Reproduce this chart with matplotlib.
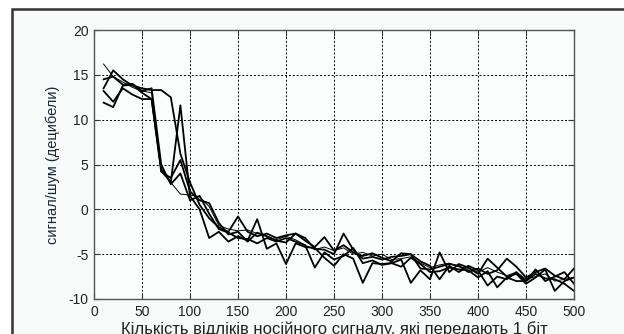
import matplotlib
matplotlib.use("Agg")
import matplotlib.pyplot as plt
from matplotlib.patches import Rectangle
import numpy as np

x_vals = list(range(10, 501, 10))

s1 = [16.2, 14.8, 14.2, 13.6, 13.2, 13.0, 4.2, 3.0, 1.7, 1.6,
      1.4, 0.3, -1.8, -2.2, -2.4, -2.3, -2.7, -3.0, -3.4, -3.0,
      -3.4, -4.0, -4.5, -4.2, -4.6, -4.3, -5.0, -4.8, -5.2, -5.0,
      -5.6, -5.5, -5.3, -6.0, -6.5, -6.2, -6.0, -6.4, -6.6, -7.0,
      -6.5, -7.0, -7.4, -7.0, -7.8, -7.5, -7.2, -8.0, -7.8, -7.6]
s2 = [13.5, 15.5, 14.5, 13.8, 13.5, 13.3, 13.3, 12.5, 6.2, 3.0,
      0.5, -1.0, -2.0, -2.5, -0.8, -2.5, -3.0, -2.7, -3.2, -2.9,
      -2.7, -3.5, -4.2, -3.1, -4.6, -4.0, -4.8, -5.2, -4.9, -5.4,
      -5.8, -4.9, -5.0, -6.6, -6.7, -6.4, -6.1, -6.3, -7.0, -6.6,
      -7.2, -6.8, -5.5, -6.4, -7.6, -7.0, -6.6, -7.4, -7.8, -6.6]
s3 = [11.9, 11.4, 13.8, 13.9, 13.0, 12.3, 4.5, 3.0, 11.6, 1.5,
      0.0, -3.2, -2.5, -3.6, -3.0, -3.5, -1.1, -4.4, -3.8, -6.1,
      -3.8, -4.2, -4.3, -5.4, -6.3, -5.0, -5.5, -8.2, -6.0, -6.1,
      -6.0, -5.6, -8.2, -6.8, -7.8, -4.8, -7.0, -6.1, -6.5, -7.2,
      -5.5, -6.5, -7.5, -7.2, -8.3, -7.6, -6.7, -9.1, -8.0, -7.6]
s4 = [13.2, 12.0, 13.5, 12.8, 12.3, 12.3, 4.2, 3.5, 5.5, 2.0,
      1.0, 0.7, -1.5, -2.8, -2.5, -3.6, -2.6, -3.0, -3.5, -3.7,
      -2.7, -3.2, -4.4, -4.5, -5.0, -2.7, -4.5, -5.5, -5.3, -5.6,
      -5.3, -5.2, -5.0, -5.8, -6.3, -7.8, -6.3, -7.0, -6.3, -6.8,
      -8.5, -7.5, -7.8, -7.0, -8.0, -7.2, -7.7, -7.8, -8.3, -9.1]
s5 = [14.5, 14.8, 13.9, 14.0, 13.2, 13.5, 5.0, 2.8, 4.0, 1.0,
      1.5, -0.5, -2.2, -2.6, -3.2, -3.3, -3.8, -3.2, -3.6, -3.2,
      -3.6, -4.0, -6.5, -4.8, -5.6, -5.2, -4.3, -6.0, -5.7, -6.2,
      -6.0, -6.4, -5.4, -6.1, -7.0, -6.9, -6.5, -6.7, -6.8, -7.6,
      -6.9, -8.7, -7.6, -8.0, -8.0, -6.7, -8.0, -7.5, -7.0, -8.3]

x_ticks = [0, 50, 100, 150, 200, 250, 300, 350, 400, 450, 500]
y_ticks = [-10, -5, 0, 5, 10, 15, 20]
x_label = "Кількість відліків носійного сигналу, які передають 1 біт"
y_label = "сигнал/шум (децибели)"

plt.rcParams['font.family'] = ['Liberation Sans', 'DejaVu Sans']
plt.rcParams['axes.unicode_minus'] = False

fig = plt.figure(figsize=(6.24, 3.34), dpi=100)
fig.patch.set_facecolor('white')

# outer frame (cut off at right/bottom)
frame = Rectangle((12 / 624, -0.2), 1.2, 1 - 9 / 334 + 0.2,
                  transform=fig.transFigure, facecolor='#f8fafa',
                  edgecolor='#333333', linewidth=1.8, clip_on=False, zorder=-10)
fig.patches.append(frame)

ax = fig.add_axes([94 / 624, 1 - 299 / 334, 480 / 624, 269 / 334])
ax.set_zorder(1)
ax.set_facecolor('#fbfcfc')

ax.plot(x_vals, s1, color='black', linewidth=0.7)
for s in (s2, s3, s4, s5):
    ax.plot(x_vals, s, color='black', linewidth=1.3)

ax.set_xlim(0, 500)
ax.set_ylim(-10, 20)
ax.set_xticks(x_ticks)
ax.set_yticks(y_ticks)
ax.grid(True, color='black', linestyle=(0, (2, 2)), linewidth=0.7)
ax.tick_params(direction='in', top=True, right=True, length=4,
               labelsize=10, colors='#333333', labelcolor='#222222', pad=4)
for sp in ax.spines.values():
    sp.set_color('#555555')
    sp.set_linewidth(1.0)

ax.set_xlabel(x_label, fontsize=12, color='#222222')
ax.xaxis.set_label_coords(0.5, -0.083)
ax.set_ylabel(y_label, fontsize=10.5, color='#1a2540')
ax.yaxis.set_label_coords(-0.071, 0.5)

fig.savefig("out.png", dpi=100)
